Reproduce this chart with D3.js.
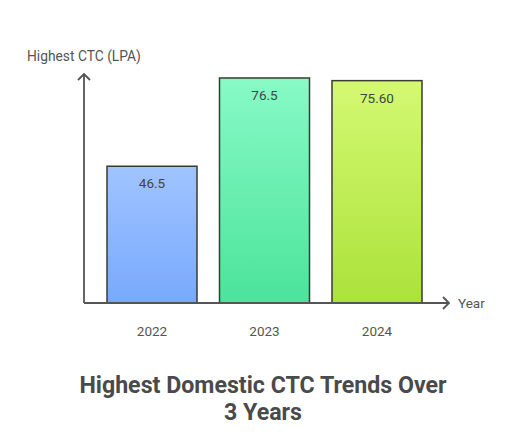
<!DOCTYPE html>
<html>
<head>
<meta charset="utf-8">
<script src="https://cdn.jsdelivr.net/npm/d3@7"></script>
<style>
  body { margin: 0; background: #fff; }
  svg { display: block; font-family: Roboto, sans-serif; }
</style>
</head>
<body>
<svg id="chart" width="512" height="444"></svg>
<script>
var years = ['2022', '2023', '2024'];
var ctc = [46.5, 76.5, 75.6];
var ctcLabels = ['46.5', '76.5', '75.60'];
var topColors = ['#a0c4ff', '#88fac6', '#d4f972'];
var bottomColors = ['#78a9fd', '#4be39b', '#abe23a'];

var svg = d3.select('#chart');
var axisColor = '#555';

var x = d3.scaleBand().domain(years).range([107, 422]).paddingInner(0.2).paddingOuter(0);
var y = d3.scaleLinear().domain([0, 76.5]).range([303, 78]);

var defs = svg.append('defs');
years.forEach(function (yr, i) {
    var g = defs.append('linearGradient').attr('id', 'grad' + i)
        .attr('x1', 0).attr('y1', 0).attr('x2', 0).attr('y2', 1);
    g.append('stop').attr('offset', '0%').attr('stop-color', topColors[i]);
    g.append('stop').attr('offset', '100%').attr('stop-color', bottomColors[i]);
});

// bars
svg.selectAll('rect.bar').data(ctc).enter().append('rect')
    .attr('class', 'bar')
    .attr('x', function (d, i) { return x(years[i]); })
    .attr('y', function (d) { return y(d); })
    .attr('width', x.bandwidth())
    .attr('height', function (d) { return y(0) - y(d); })
    .attr('fill', function (d, i) { return 'url(#grad' + i + ')'; })
    .attr('stroke', '#3b3b30')
    .attr('stroke-width', 1.5);

// value labels
svg.selectAll('text.val').data(ctc).enter().append('text')
    .attr('class', 'val')
    .attr('x', function (d, i) { return x(years[i]) + x.bandwidth() / 2; })
    .attr('y', function (d) { return y(d) + 22; })
    .attr('text-anchor', 'middle')
    .attr('font-size', 13.5)
    .attr('fill', '#444')
    .text(function (d, i) { return ctcLabels[i]; });

// year labels
svg.selectAll('text.yr').data(years).enter().append('text')
    .attr('class', 'yr')
    .attr('x', function (d) { return x(d) + x.bandwidth() / 2; })
    .attr('y', 336)
    .attr('text-anchor', 'middle')
    .attr('font-size', 13.5)
    .attr('fill', '#555')
    .text(function (d) { return d; });

// axes
svg.append('line').attr('x1', 84).attr('y1', 303).attr('x2', 84).attr('y2', 74)
    .attr('stroke', axisColor).attr('stroke-width', 1.8);
svg.append('path').attr('d', 'M78,80 L84,74 L90,80')
    .attr('fill', 'none').attr('stroke', axisColor).attr('stroke-width', 1.8);
svg.append('line').attr('x1', 84).attr('y1', 303).attr('x2', 449).attr('y2', 303)
    .attr('stroke', axisColor).attr('stroke-width', 1.8);
svg.append('path').attr('d', 'M443,297 L449,303 L443,309')
    .attr('fill', 'none').attr('stroke', axisColor).attr('stroke-width', 1.8);

svg.append('text').attr('x', 27).attr('y', 61)
    .attr('font-size', 13.8).attr('fill', '#555')
    .text('Highest CTC (LPA)');
svg.append('text').attr('x', 458).attr('y', 308)
    .attr('font-size', 13.5).attr('fill', '#555')
    .text('Year');

// title
var title = svg.append('text').attr('text-anchor', 'middle')
    .attr('font-size', 23.2).attr('font-weight', 'bold').attr('fill', '#4a4a4a');
title.append('tspan').attr('x', 263).attr('y', 393).text('Highest Domestic CTC Trends Over');
title.append('tspan').attr('x', 263).attr('y', 420).text('3 Years');
</script>
</body>
</html>
